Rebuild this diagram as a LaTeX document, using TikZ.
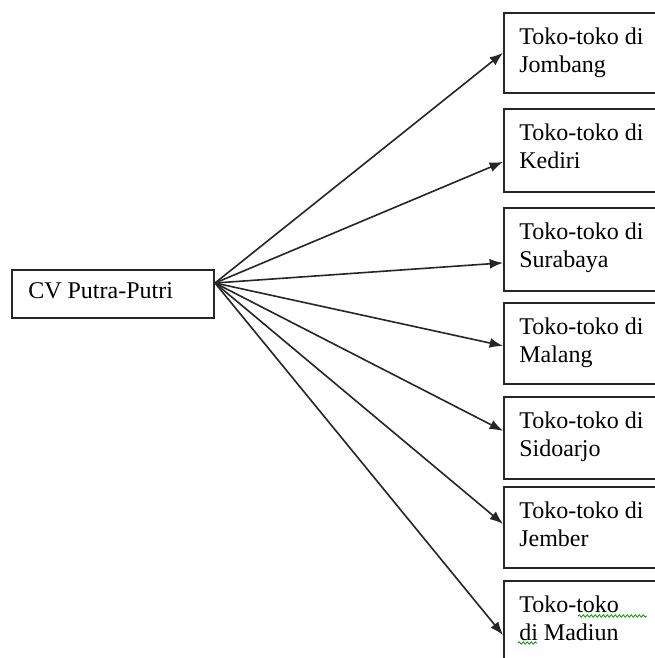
\documentclass[tikz,border=0pt]{standalone}
\usepackage{fontspec}
\setmainfont{Liberation Serif}
\usetikzlibrary{arrows.meta,calc,decorations.pathmorphing}
\begin{document}
\begin{tikzpicture}[x=0.75pt,y=-0.75pt,
  box/.style={draw=black!85,line width=1.3pt,anchor=north west,inner sep=0pt,minimum width=165pt},
  lbl/.style={anchor=north west,inner sep=0pt,align=left,font=\fontsize{18}{21}\selectfont},
  arr/.style={draw=black!85,line width=1.2pt,-{Latex[length=10pt,width=7.5pt]}},
  spell/.style={draw=green!60!black,line width=0.6pt,decorate,decoration={snake,amplitude=0.9pt,segment length=3pt}}]
\clip (0,0) rectangle (655,658);
\fill[white] (0,0) rectangle (655,658);
% source box
\node[box,minimum width=151.5pt,minimum height=36pt] (cv) at (11,269) {};
\node[anchor=base west,inner sep=0pt,font=\fontsize{18}{21}\selectfont] (cvt) at (28,298) {CV Putra-Putri};
\coordinate (src) at (215,283);
% target boxes
\node[box,minimum height=60pt] (jombang) at (503,12) {};
\node[lbl] (jombangt) at (519,28) {Toko-toko di\\Jombang};
\node[box,minimum height=62.25pt] (kediri) at (503,108) {};
\node[lbl] (kedirit) at (519,124) {Toko-toko di\\Kediri};
\node[box,minimum height=62.25pt] (surabaya) at (503,207) {};
\node[lbl] (surabayat) at (519,223) {Toko-toko di\\Surabaya};
\node[box,minimum height=60.75pt] (malang) at (503,302) {};
\node[lbl] (malangt) at (519,318) {Toko-toko di\\Malang};
\node[box,minimum height=61.5pt] (sidoarjo) at (503,396) {};
\node[lbl] (sidoarjot) at (519,412) {Toko-toko di\\Sidoarjo};
\node[box,minimum height=60.75pt] (jember) at (503,486) {};
\node[lbl] (jembert) at (519,502) {Toko-toko di\\Jember};
\node[box,minimum height=75pt] (madiun) at (503,580) {};
\node[lbl] (madiunt) at (519,596) {Toko-toko\\di Madiun};
% spell-check marks
\draw[spell] (578,616) -- (647,616);
\draw[spell] (518,643) -- (537,643);
% arrows
\draw[arr] (src) -- (jombang.west);
\draw[arr] (src) -- ($(kediri.west)+(0,11.5)$);
\draw[arr] (src) -- ($(surabaya.west)+(0,13.5)$);
\draw[arr] (src) -- ($(malang.west)+(0,2.5)$);
\draw[arr] (src) -- ($(sidoarjo.west)+(0,-7)$);
\draw[arr] (src) -- ($(jember.west)+(0,-3.5)$);
\draw[arr] (src) -- ($(madiun.north west)+(0,55)$);
\end{tikzpicture}
\end{document}
